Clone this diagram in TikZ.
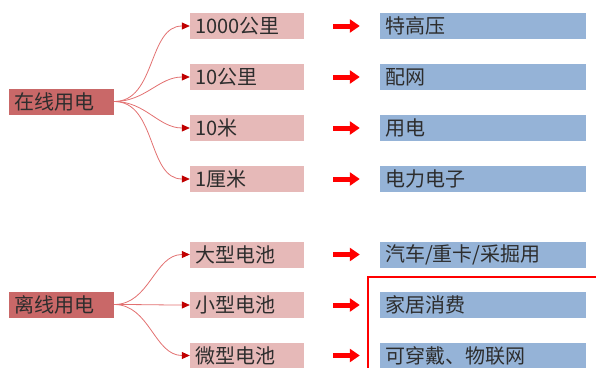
\documentclass[tikz,border=0pt]{standalone}
\usepackage{fontspec}
\setmainfont{Noto Sans CJK SC}
\usetikzlibrary{arrows.meta}
\definecolor{rootred}{RGB}{201,104,104}
\definecolor{pinkbox}{RGB}{230,185,184}
\definecolor{bluebox}{RGB}{149,179,215}
\definecolor{linkred}{RGB}{226,112,112}
\definecolor{tipred}{RGB}{192,0,0}
\definecolor{txt}{RGB}{45,45,45}

\begin{document}
\begin{tikzpicture}[x=1pt,y=1pt,node distance=51pt,
  every node/.style={font=\fontsize{20}{22}\selectfont,text=txt,inner xsep=5pt,
    inner ysep=0pt,minimum height=26pt,align=left},
  root/.style={fill=rootred,text width=95pt},
  pinkbox/.style={fill=pinkbox,text width=104pt},
  bluebox/.style={fill=bluebox,text width=196pt},
  link/.style={draw=linkred,line width=0.8pt,
    -{Triangle[length=8pt,width=7pt,color=tipred,fill=tipred]}},
  bigarrow/.style={draw=red,line width=5pt,-{Triangle[length=10pt,width=13pt]}}]
  \clip (0,0) rectangle (596,-367);
  % online
  \node[root] (0) at (61.5,-101.5) {在线用电};
  \node[pinkbox] (11) at (247,-26) {1000公里};
  \node[pinkbox,below of=11] (12) {10公里};
  \node[pinkbox,below of=12] (13) {10米};
  \node[pinkbox,below of=13] (14) {1厘米};
  \node[bluebox,node distance=236pt,right of=11] (21) {特高压};
  \node[bluebox,node distance=236pt,right of=12] (22) {配网};
  \node[bluebox,node distance=236pt,right of=13] (23) {用电};
  \node[bluebox,node distance=236pt,right of=14] (24) {电力电子};
  % offline
  \node[root] (5) at (61.5,-304.5) {离线用电};
  \node[pinkbox] (61) at (247,-254.5) {大型电池};
  \node[pinkbox,node distance=50.5pt,below of=61] (62) {小型电池};
  \node[pinkbox,node distance=50.5pt,below of=62] (63) {微型电池};
  \node[bluebox,node distance=236pt,right of=61] (71) {汽车/重卡/采掘用};
  \node[bluebox,node distance=236pt,right of=62] (72) {家居消费};
  \node[bluebox,node distance=236pt,right of=63] (73) {可穿戴、物联网};
  \path[link] (0.east) to[out=0,in=180] (11.west);
  \path[link] (0.east) to[out=0,in=180] (12.west);
  \path[link] (0.east) to[out=0,in=180] (13.west);
  \path[link] (0.east) to[out=0,in=180] (14.west);
  \path[link] (5.east) to[out=0,in=180] (61.west);
  \path[link] (5.east) to[out=0,in=180] (62.west);
  \path[link] (5.east) to[out=0,in=180] (63.west);
  \foreach \a/\b in {11/21,12/22,13/23,14/24,61/71,62/72,63/73}
    \draw[bigarrow] ([xshift=29pt]\a.east) -- ([xshift=-20pt]\b.west);
  \draw[red,line width=2pt] (600,-277) -- (368,-277) -- (368,-372);
\end{tikzpicture}
\end{document}
